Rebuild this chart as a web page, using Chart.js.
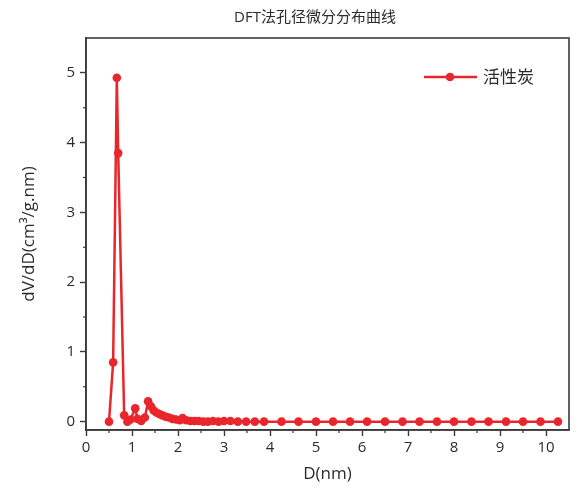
<!DOCTYPE html>
<html>
<head>
<meta charset="utf-8">
<script src="https://cdn.jsdelivr.net/npm/chart.js@4.4.1/dist/chart.umd.min.js"></script>
<style>
  html, body { margin: 0; padding: 0; background: #fff; }
  #wrap { width: 584px; height: 492px; }
</style>
</head>
<body>
<div id="wrap"><canvas id="poreChart" width="584" height="492"></canvas></div>
<script>
// pore diameter (nm) and dV/dD values of the activated carbon sample
const poreSize = [0.50, 0.59, 0.67, 0.70, 0.83, 0.90, 0.97, 1.07, 1.12, 1.20, 1.28, 1.35, 1.41, 1.47, 1.53,
    1.59, 1.66, 1.73, 1.80, 1.88, 1.96, 2.04, 2.10, 2.18, 2.27, 2.36, 2.45, 2.55, 2.65, 2.76, 2.88, 3.00,
    3.14, 3.30, 3.48, 3.67, 3.87, 4.25, 4.62, 5.00, 5.37, 5.74, 6.11, 6.50, 6.88, 7.25, 7.63, 8.00, 8.38,
    8.75, 9.13, 9.50, 9.88, 10.26];
const dVdD = [0.00, 0.85, 4.93, 3.85, 0.09, 0.00, 0.03, 0.19, 0.04, 0.01, 0.06, 0.29, 0.22, 0.16, 0.13,
    0.11, 0.09, 0.07, 0.06, 0.04, 0.03, 0.02, 0.05, 0.02, 0.01, 0.01, 0.01, 0.00, 0.00, 0.01, 0.00, 0.01,
    0.01, 0.00, 0.00, 0.00, 0.00, 0.00, 0.00, 0.00, 0.00, 0.00, 0.00, 0.00, 0.00, 0.00, 0.00, 0.00, 0.00,
    0.00, 0.00, 0.00, 0.00, 0.00];
// tick positions (major ones get labels, half steps are minor)
const xTicks = [0, 0.5, 1, 1.5, 2, 2.5, 3, 3.5, 4, 4.5, 5, 5.5, 6, 6.5, 7, 7.5, 8, 8.5, 9, 9.5, 10];
const yTicks = [0, 0.5, 1, 1.5, 2, 2.5, 3, 3.5, 4, 4.5, 5];
const seriesName = '活性炭';
const chartTitle = 'DFT法孔径微分分布曲线';
const xTitle = 'D(nm)';
const yTitle = 'dV/dD(cm³/g.nm)';

const RED = '#e8262b';
const INK = '#2b2b2b';
const AXIS = '#3a3a3a';
const FONT = '"Open Sans", "Noto Sans CJK SC", sans-serif';

const points = poreSize.map((x, i) => ({ x: x, y: dVdD[i] }));

const isWhole = v => Math.abs(v - Math.round(v)) < 1e-6;

// frame, minor ticks, title and legend
const decorations = {
    id: 'decorations',
    afterDraw(chart) {
        const ctx = chart.ctx;
        const a = chart.chartArea;
        ctx.save();
        ctx.strokeStyle = AXIS;
        ctx.lineWidth = 1.6;
        ctx.strokeRect(a.left, a.top, a.right - a.left, a.bottom - a.top);

        // short minor ticks at the half steps
        ctx.lineWidth = 1.2;
        const xs = chart.scales.x, ys = chart.scales.y;
        xTicks.filter(v => !isWhole(v)).forEach(v => {
            const px = xs.getPixelForValue(v);
            ctx.beginPath(); ctx.moveTo(px, a.bottom); ctx.lineTo(px, a.bottom + 3); ctx.stroke();
        });
        yTicks.filter(v => !isWhole(v)).forEach(v => {
            const py = ys.getPixelForValue(v);
            ctx.beginPath(); ctx.moveTo(a.left, py); ctx.lineTo(a.left - 3, py); ctx.stroke();
        });

        ctx.fillStyle = INK;
        ctx.font = '15px ' + FONT;
        ctx.textAlign = 'center';
        ctx.textBaseline = 'middle';
        ctx.fillText(chartTitle, 315, 18);

        // legend entry
        ctx.strokeStyle = RED;
        ctx.lineWidth = 2.5;
        ctx.beginPath(); ctx.moveTo(424, 77); ctx.lineTo(477, 77); ctx.stroke();
        ctx.fillStyle = RED;
        ctx.beginPath(); ctx.arc(450, 77, 4.3, 0, Math.PI * 2); ctx.fill();
        ctx.fillStyle = INK;
        ctx.font = '17px ' + FONT;
        ctx.textAlign = 'left';
        ctx.fillText(seriesName, 483, 78);
        ctx.restore();
    }
};

function axisOptions(ticks, title, extra) {
    return Object.assign({
        type: 'linear',
        afterBuildTicks(scale) { scale.ticks = ticks.map(v => ({ value: v })); },
        ticks: {
            autoSkip: false,
            maxRotation: 0,
            color: INK,
            font: { family: FONT, size: 15 },
            callback: v => isWhole(v) ? String(Math.round(v)) : ''
        },
        grid: {
            drawOnChartArea: false,
            tickLength: 6,
            tickWidth: 1.4,
            tickColor: c => isWhole(c.tick.value) ? AXIS : 'rgba(0,0,0,0)'
        },
        border: { color: AXIS, width: 1.6 },
        title: {
            display: true,
            text: title,
            color: INK,
            font: { family: FONT, size: 17 }
        }
    }, extra);
}

const xAxis = axisOptions(xTicks, xTitle, { min: 0, max: 10.5, afterFit(scale) { scale.height = 62; } });
xAxis.ticks.padding = 3;
xAxis.title.padding = { top: 4, bottom: 8 };

const yAxis = axisOptions(yTicks, yTitle, { min: -0.12, max: 5.5, afterFit(scale) { scale.width = 86; } });
yAxis.ticks.padding = 5;
yAxis.title.padding = { top: 19, bottom: 0 };

const ctx = document.getElementById('poreChart').getContext('2d');
new Chart(ctx, {
    type: 'scatter',
    data: {
        datasets: [{
            label: seriesName,
            data: points,
            showLine: true,
            borderColor: RED,
            backgroundColor: RED,
            borderWidth: 2.5,
            pointRadius: 4.3,
            pointBorderWidth: 0,
            tension: 0
        }]
    },
    options: {
        responsive: false,
        animation: false,
        layout: { padding: { top: 38, right: 15, left: 0, bottom: 0 } },
        plugins: {
            legend: { display: false },
            title: { display: false },
            tooltip: { enabled: false }
        },
        scales: { x: xAxis, y: yAxis }
    },
    plugins: [decorations]
});
</script>
</body>
</html>
